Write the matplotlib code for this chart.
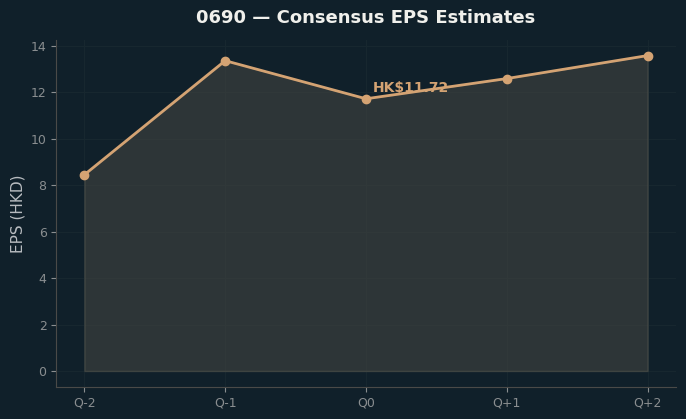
import numpy as np
import matplotlib.pyplot as plt

quarters = ["Q-2", "Q-1", "Q0", "Q+1", "Q+2"]
eps = [8.45, 13.36, 11.72, 12.59, 13.58]

bg = "#10202a"
line_c = "#d4a373"

fig, ax = plt.subplots(figsize=(6.86, 4.19), dpi=100)
fig.patch.set_facecolor(bg)
ax.set_facecolor(bg)

x = np.arange(len(quarters))
ax.fill_between(x, eps, color="#4a4a44", alpha=0.5, edgecolor="#5a5a50", linewidth=1)
ax.plot(x, eps, color=line_c, linewidth=2, marker="o", markersize=6)
ax.annotate(f"HK${eps[2]:.2f}", (x[2], eps[2]), xytext=(5, 5), textcoords="offset points",
            color=line_c, fontsize=10, fontweight="bold")

ax.set_xticks(x)
ax.set_xticklabels(quarters)
ax.set_ylabel("EPS (HKD)", color="#b8bcc0", fontsize=11)
ax.set_title("0690 — Consensus EPS Estimates", color="#f0f0ec", fontsize=13,
             fontweight="bold", pad=12)

ax.tick_params(colors="#8a8e90", labelsize=9)
for s in ["top", "right"]:
    ax.spines[s].set_visible(False)
for s in ["left", "bottom"]:
    ax.spines[s].set_color("#4a4a48")
ax.grid(True, color="#17272f", linewidth=0.8)
ax.set_axisbelow(True)

plt.subplots_adjust(left=0.082, right=0.985, top=0.905, bottom=0.077)
plt.savefig("out.png", facecolor=bg)
